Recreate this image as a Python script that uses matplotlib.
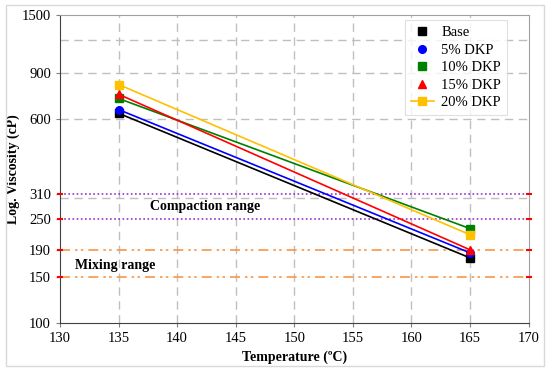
import numpy as np
import matplotlib.pyplot as plt
from matplotlib.lines import Line2D
from matplotlib.patches import Rectangle

plt.rc('font', family='Liberation Serif')

# data
temps = [135, 165]
series = ['Base', '5% DKP', '10% DKP', '15% DKP', '20% DKP']
visc = {
    'Base':    [632, 177],
    '5% DKP':  [653, 185],
    '10% DKP': [720, 229],
    '15% DKP': [747, 190],
    '20% DKP': [814, 217],
}
colors = ['black', 'blue', 'green', 'red', '#FFC000']
markers = ['s', 'o', 's', '^', 's']

yticks = [100, 150, 190, 250, 310, 600, 900, 1500]
ygrid = [300, 600, 900, 1200]
compaction = [250, 310]
mixing = [150, 190]

fig = plt.figure(figsize=(5.5, 3.72), dpi=100)
ax = fig.add_axes([0.109, 0.1325, 0.852, 0.827])

for v in ygrid:
    ax.axhline(v, color='#BFBFBF', ls=(0, (6, 4)), lw=1.0, zorder=0)
for t in range(135, 170, 5):
    ax.axvline(t, color='#BFBFBF', ls=(0, (6, 4)), lw=1.0, zorder=0)

for v in compaction:
    ax.axhline(v, color='#9933CC', ls=(0, (1, 1.5)), lw=1.2, zorder=1)
for v in mixing:
    ax.axhline(v, color='#F79646', ls=(0, (6, 3, 1.5, 2, 1.5, 3)), lw=1.2, zorder=1)
for v in compaction + mixing:
    ax.plot([130, 170], [v, v], ls='none', marker='_', color='red', ms=5, mew=1.5,
            clip_on=False, zorder=5)

for name, c, m in zip(series, colors, markers):
    ax.plot(temps, visc[name], color=c, marker=m, ms=5.5, lw=1.2, zorder=3)

ax.text(137.7, 277, 'Compaction range', fontsize=10, fontweight='bold', va='center')
ax.text(131.3, 166, 'Mixing range', fontsize=10, fontweight='bold', va='center')

ax.set_yscale('log')
ax.set_ylim(100, 1500)
ax.set_xlim(130, 170)
ax.set_yticks(yticks)
ax.set_yticklabels([str(v) for v in yticks])
ax.yaxis.set_minor_locator(plt.NullLocator())
ax.set_xticks(range(130, 175, 5))
ax.tick_params(labelsize=10.5, length=3, color='#808080')
ax.set_xlabel('Temperature (ºC)', fontsize=10, fontweight='bold', labelpad=4)
ax.set_ylabel('Log. Viscosity (cP)', fontsize=10, fontweight='bold', labelpad=1)
for s in ax.spines.values():
    s.set_color('#A0A0A0')
ax.spines['left'].set_color('#404040')
ax.spines['bottom'].set_color('#404040')

handles = []
for i, (name, c, m) in enumerate(zip(series, colors, markers)):
    ls = '-' if i == len(series) - 1 else 'none'
    handles.append(Line2D([], [], color=c, marker=m, ms=5.5, ls=ls, lw=1.2))
leg = ax.legend(handles, series, loc='upper right', bbox_to_anchor=(0.954, 0.984),
                fontsize=10.5, frameon=True, fancybox=False, edgecolor='#D9D9D9',
                handlelength=1.6, handletextpad=0.5, labelspacing=0.3,
                borderpad=0.4, borderaxespad=0)
leg.get_frame().set_linewidth(0.8)

fig.patches.append(Rectangle((6 / 550, 1 - 366 / 372), 538 / 550, 361 / 372,
                             transform=fig.transFigure, fill=False,
                             edgecolor='#D9D9D9', lw=1.0))

fig.savefig('out.png', dpi=100)
